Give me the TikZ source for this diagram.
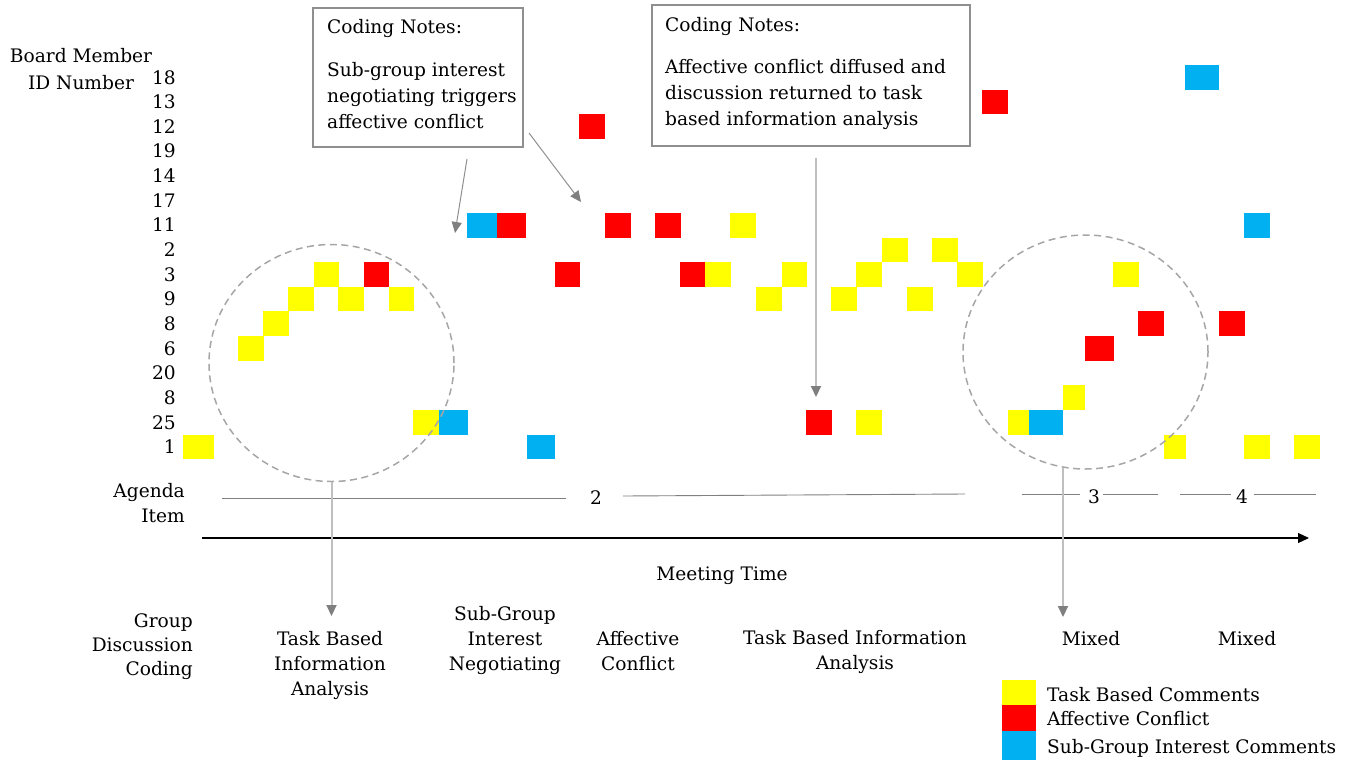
\documentclass[tikz,border=0pt]{standalone}
\usepackage{fontspec}
\setmainfont{DejaVu Serif}
\usetikzlibrary{arrows.meta,shapes.geometric}
\definecolor{tyel}{HTML}{FFFF00}
\definecolor{tred}{HTML}{FF0000}
\definecolor{tblu}{HTML}{00B0F0}
\definecolor{boxgray}{HTML}{8F8F8F}
\definecolor{lightline}{HTML}{BFBFBF}
\definecolor{headgray}{HTML}{7F7F7F}
\definecolor{dashgray}{HTML}{A6A6A6}
\definecolor{agendagray}{HTML}{808080}
\newcommand{\cell}[4]{\fill[#1] (#2,{77.3+24.65*#4-12.33}) rectangle (#3,{77.3+24.65*#4+12.33});}
\begin{document}
\begin{tikzpicture}[x=1pt,y=-1pt,
  every node/.style={font=\fontsize{18.6}{25}\selectfont, inner sep=0pt},
  notebox/.style={draw=boxgray, line width=1.2pt},
  notearrow/.style={draw=boxgray, line width=1pt, -{Triangle[length=11pt,width=10pt,color=headgray]}},
  longarrow/.style={draw=lightline, line width=2pt, -{Triangle[length=11pt,width=10pt,color=headgray]}},
  dashcirc/.style={ellipse, draw=dashgray, line width=1.5pt, dash pattern=on 7pt off 4.5pt},
  agline/.style={draw=agendagray, line width=0.9pt},
  lab/.style={align=center}]
\useasboundingbox (0,0) rectangle (1358,761);

% axis titles
\node[lab, font=\fontsize{18.6}{27}\selectfont] (bm) at (81,69) {Board Member\\ID Number};
\foreach \lab [count=\k from 0] in {18,13,12,19,14,17,11,2,3,9,8,6,20,8,25,1}
  \node[anchor=base east] (row\k) at (176,{77.3+24.65*\k+6.7}) {\lab};

% cells
\cell{tyel}{183}{214}{15}
\cell{tblu}{527}{555}{15}
\cell{tyel}{1164}{1186}{15}
\cell{tyel}{1244}{1270}{15}
\cell{tyel}{1294}{1320}{15}
\cell{tyel}{413}{439}{14}
\cell{tblu}{439}{468}{14}
\cell{tred}{806}{832}{14}
\cell{tyel}{856}{882}{14}
\cell{tyel}{1008}{1029}{14}
\cell{tblu}{1029}{1063}{14}
\cell{tyel}{1063}{1085}{13}
\cell{tyel}{238}{264}{11}
\cell{tred}{1085}{1114}{11}
\cell{tyel}{263}{289}{10}
\cell{tred}{1138}{1164}{10}
\cell{tred}{1219}{1245}{10}
\cell{tyel}{288}{314}{9}
\cell{tyel}{338}{364}{9}
\cell{tyel}{389}{414}{9}
\cell{tyel}{756}{782}{9}
\cell{tyel}{831}{857}{9}
\cell{tyel}{907}{933}{9}
\cell{tyel}{314}{339}{8}
\cell{tred}{364}{389}{8}
\cell{tred}{555}{580}{8}
\cell{tred}{680}{705}{8}
\cell{tyel}{705}{731}{8}
\cell{tyel}{782}{807}{8}
\cell{tyel}{856}{882}{8}
\cell{tyel}{957}{983}{8}
\cell{tyel}{1113}{1139}{8}
\cell{tyel}{882}{908}{7}
\cell{tyel}{932}{958}{7}
\cell{tblu}{467}{497}{6}
\cell{tred}{497}{526}{6}
\cell{tred}{605}{631}{6}
\cell{tred}{655}{681}{6}
\cell{tyel}{730}{756}{6}
\cell{tblu}{1244}{1270}{6}
\cell{tred}{579}{605}{2}
\cell{tred}{982}{1008}{1}
\cell{tblu}{1185}{1219}{0}

% dashed circles
\node[dashcirc, minimum width=245, minimum height=237] (circ1) at (331.5,363) {};
\node[dashcirc, minimum width=245, minimum height=234] (circ2) at (1085.5,352) {};

% coding notes
\node[notebox, minimum width=210, minimum height=139] (note1) at (418,77.5) {};
\node[anchor=north west, align=left, font=\fontsize{18.6}{26}\selectfont] (note1txt) at (327,19)
  {Coding Notes:\\[17pt]Sub-group interest\\negotiating triggers\\affective conflict};
\node[notebox, minimum width=318, minimum height=141] (note2) at (811,75.5) {};
\node[anchor=north west, align=left, font=\fontsize{18.6}{26}\selectfont] (note2txt) at (665,17)
  {Coding Notes:\\[16pt]Affective conflict diffused and\\discussion returned to task\\based information analysis};

\coordinate (n1a) at (467,159); \coordinate (n1ae) at (455,233);
\coordinate (n1b) at (529,133); \coordinate (n1be) at (581,202);
\coordinate (n2a) at (816,158); \coordinate (n2ae) at (816,397);
\draw[notearrow] (n1a) -- (n1ae);
\draw[notearrow] (n1b) -- (n1be);
\draw[longarrow] (n2a) -- (n2ae);

% agenda
\node[lab, align=right, anchor=east] (agenda) at (185,503) {Agenda\\Item};
\node (ag2) at (596,498) {2};
\node (ag3) at (1094,497) {3};
\node (ag4) at (1242,497) {4};
\draw[agline] (222,498) -- (566,498);
\draw[agline] (623,496) -- (965,494);
\draw[agline] (1022,494) -- (1080,494);
\draw[agline] (1103,494) -- (1158,494);
\draw[agline] (1180,494) -- (1231,494);
\draw[agline] (1254,494) -- (1316,494);

% timeline
\coordinate (tl0) at (202,538); \coordinate (tl1) at (1309,538);
\draw[line width=1.2pt, -{Triangle[length=11pt,width=10pt]}] (tl0) -- (tl1);
\node (mt) at (722,576) {Meeting Time};

% circle arrows
\coordinate (c1e) at (331.5,616);
\draw[longarrow] (circ1.south) -- (c1e);
\coordinate (c2s) at (1063,468); \coordinate (c2e) at (1063,617);
\draw[longarrow] (c2s) -- (c2e);

% discussion coding
\node[lab, align=right, anchor=east, font=\fontsize{18.6}{24}\selectfont] (gdc) at (193,647) {Group\\Discussion\\Coding};
\node[lab] (d1) at (330,665) {Task Based\\Information\\Analysis};
\node[lab] (d2) at (505,640) {Sub-Group\\Interest\\Negotiating};
\node[lab] (d3) at (638,651) {Affective\\Conflict};
\node[lab] (d4) at (855,652) {Task Based Information\\Analysis};
\node (d5) at (1091,639) {Mixed};
\node (d6) at (1247,639) {Mixed};

% legend
\fill[tyel] (1002,680) rectangle (1036,705);
\fill[tred] (1002,705) rectangle (1036,731);
\fill[tblu] (1002,731) rectangle (1036,760);
\node[anchor=base west] (lg1) at (1047,701) {Task Based Comments};
\node[anchor=base west] (lg2) at (1047,725) {Affective Conflict};
\node[anchor=base west] (lg3) at (1047,753) {Sub-Group Interest Comments};
\end{tikzpicture}
\end{document}
